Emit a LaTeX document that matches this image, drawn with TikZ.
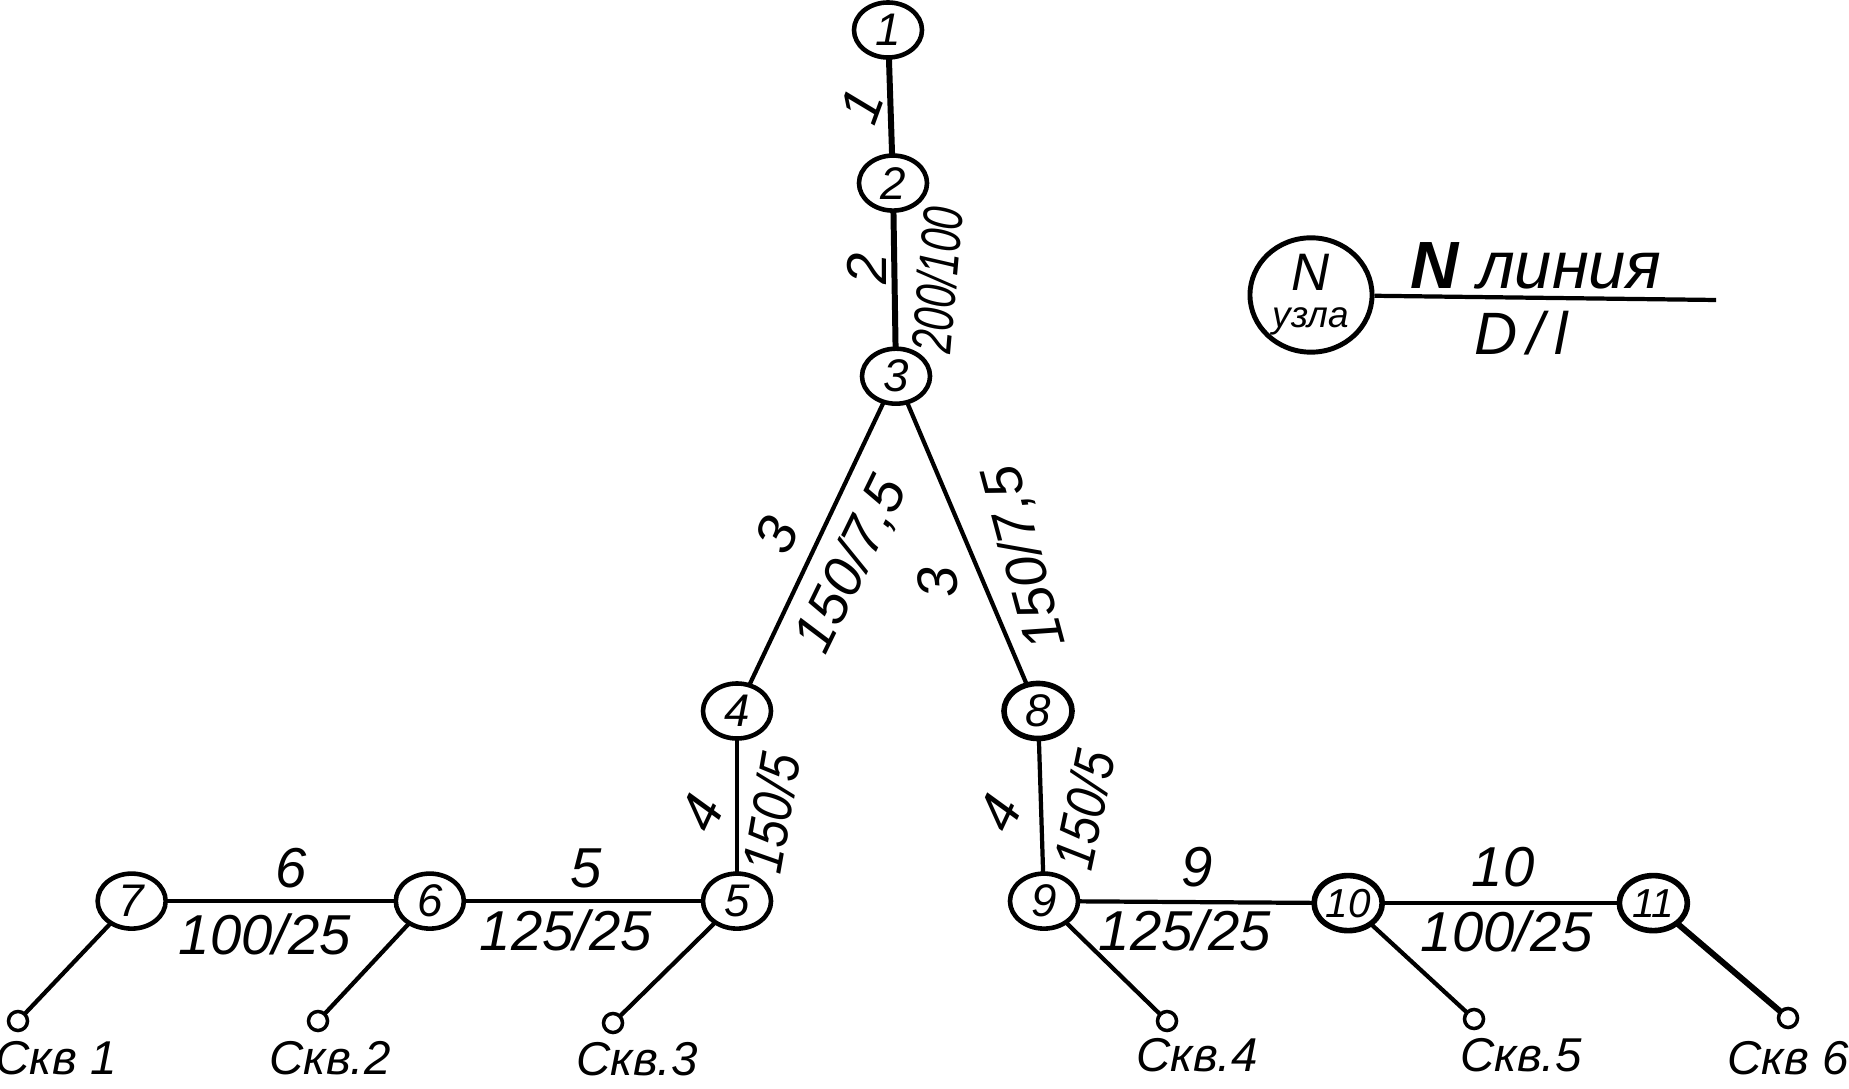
\documentclass[tikz,border=0pt]{standalone}
\usepackage{fontspec}
\setmainfont{Liberation Sans}
\usetikzlibrary{positioning, shapes.geometric}

\begin{document}
\begin{tikzpicture}[
      x=0.01cm, y=-0.01cm,
      uzel/.style={ellipse, draw, line width=1.3pt, minimum width=0.68cm, minimum height=0.55cm,
                   inner sep=0pt, outer sep=0pt, font=\itshape\fontsize{13}{13}\selectfont},
      well/.style={circle, draw, line width=1pt, minimum size=0.19cm, inner sep=0pt, outer sep=0pt},
      lbl/.style={inner sep=0pt, font=\itshape\fontsize{16}{16}\selectfont},
      wlbl/.style={inner sep=0pt, font=\itshape\fontsize{13.5}{14}\selectfont},
      fat/.style={line width=1.7pt},
      pipe/.style={line width=1.2pt}
    ]
    \useasboundingbox (0,0) rectangle (1849,1089);

    \node[uzel] (n1) at (888,30) {1};
    \node[uzel, below=0.98cm of n1, xshift=0.05cm] (n2) {2};
    \node[uzel, below=1.38cm of n2, xshift=0.03cm] (n3) {3};
    \node[uzel] (n4) at (737,711) {4};
    \node[uzel, below=1.35cm of n4] (n5) {5};
    \node[uzel, left=2.39cm of n5] (n6) {6};
    \node[uzel, left=2.30cm of n6] (n7) {7};
    \node[uzel, line width=1.6pt] (n8) at (1038,711) {8};
    \node[uzel, below=1.35cm of n8, xshift=0.06cm] (n9) {9};
    \node[uzel, right=2.36cm of n9, yshift=-0.02cm, line width=1.6pt] (n10) {\fontsize{11.5}{12}\selectfont 10};
    \node[uzel, right=2.37cm of n10, line width=1.6pt] (n11) {\fontsize{11.5}{12}\selectfont 11};

    \node[well] (w1) at (18,1021) {};
    \node[well] (w2) at (318,1021) {};
    \node[well] (w3) at (613,1023) {};
    \node[well] (w4) at (1167,1021) {};
    \node[well] (w5) at (1474,1019) {};
    \node[well] (w6) at (1788,1018) {};

    \draw[fat] (n1) -- (n2);
    \draw[fat] (n2) -- (n3);
    \draw[pipe] (n3) -- (n4);
    \draw[pipe] (n3) -- (n8);
    \draw[pipe] (n4) -- (n5);
    \draw[pipe] (n8) -- (n9);
    \draw[pipe] (n7) -- (n6);
    \draw[pipe] (n6) -- (n5);
    \draw[pipe] (n9) -- (n10);
    \draw[pipe] (n10) -- (n11);
    \draw[pipe] (n7) -- (w1);
    \draw[pipe] (n6) -- (w2);
    \draw[pipe] (n5) -- (w3);
    \draw[pipe] (n9) -- (w4);
    \draw[pipe] (n10) -- (w5);
    \draw[fat] (n11) -- (w6);

    \node[lbl, rotate=70] (t1) at (862,106) {1};
    \node[lbl, rotate=90] (t2) at (867,269) {2};
    \node[lbl, rotate=65] (t3) at (777,535) {3};
    \node[lbl, rotate=95] (t3b) at (938,583) {3};
    \node[lbl, rotate=65] (t4) at (702,813) {4};
    \node[lbl, rotate=65] (t4b) at (1000,813) {4};
    \node[lbl] (t5) at (586,868) {5};
    \node[lbl] (t6) at (291,868) {6};
    \node[lbl] (t9) at (1197,867) {9};
    \node[lbl] (t10) at (1503,867) {10};

    \node[lbl, rotate=85, xscale=0.72] (d2) at (937,280) {200/100};
    \node[lbl, rotate=64] (d3) at (852,565) {150/7,5};
    \node[lbl, rotate=105] (d3b) at (1025,557) {150/7,5};
    \node[lbl, rotate=80, xscale=0.85] (d4) at (771,813) {150/5};
    \node[lbl, rotate=78, xscale=0.85] (d4b) at (1084,810) {150/5};
    \node[lbl] (d6) at (265,934) {100/25};
    \node[lbl] (d5) at (566,930) {125/25};
    \node[lbl] (d9) at (1185,930) {125/25};
    \node[lbl] (d10) at (1507,931) {100/25};

    \node[wlbl] (s1) at (56,1058) {Скв 1};
    \node[wlbl] (s2) at (330,1058) {Скв.2};
    \node[wlbl] (s3) at (637,1059) {Скв.3};
    \node[wlbl] (s4) at (1197,1055) {Скв.4};
    \node[wlbl] (s5) at (1521,1055) {Скв.5};
    \node[wlbl] (s6) at (1788,1058) {Скв 6};

    \node[ellipse, draw, line width=1.4pt, minimum width=1.22cm, minimum height=1.0cm, inner sep=0pt,
          align=center, font=\itshape\fontsize{10.5}{10.5}\selectfont] (leg) at (1311,295)
         {{\fontsize{15}{14}\selectfont N}\\узла};
    \coordinate (legend end) at (1716,300);
    \draw[pipe] (leg) -- (legend end);
    \node[lbl, font=\itshape\fontsize{19}{19}\selectfont] (legN) at (1536,266) {\textbf{N} линия};
    \node[lbl, font=\itshape\fontsize{17}{17}\selectfont] (legD) at (1521,333) {D\,/\,l};
  \end{tikzpicture}
\end{document}
